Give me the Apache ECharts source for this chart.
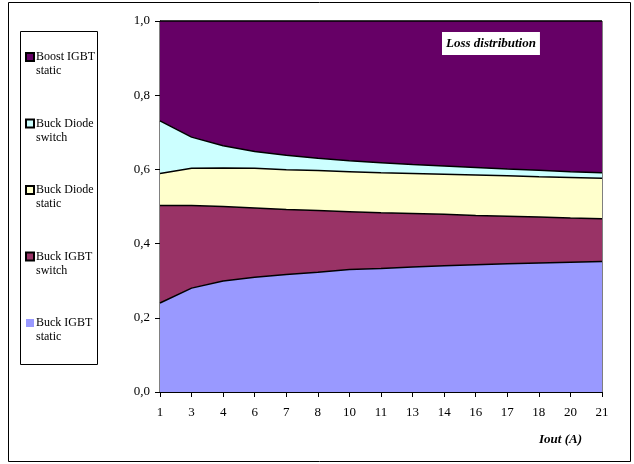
<!DOCTYPE html>
<html>
<head>
<meta charset="utf-8">
<script src="https://cdn.jsdelivr.net/npm/echarts@6/dist/echarts.min.js"></script>
<style>html,body{margin:0;padding:0;background:#fff}#c{width:634px;height:464px}</style>
</head>
<body>
<div id="c"></div>
<script>
var categories = ['1','3','4','6','7','8','10','11','13','14','16','17','18','20','21'];
var yTicks = ['0,0','0,2','0,4','0,6','0,8','1,0'];
var buckIgbtStatic   = [0.240,0.280,0.299,0.309,0.317,0.323,0.330,0.333,0.337,0.340,0.343,0.346,0.348,0.350,0.352];
var buckIgbtSwitch   = [0.263,0.223,0.201,0.187,0.175,0.166,0.156,0.150,0.144,0.139,0.133,0.128,0.124,0.119,0.115];
var buckDiodeStatic  = [0.086,0.100,0.104,0.107,0.107,0.108,0.108,0.108,0.108,0.108,0.109,0.109,0.108,0.109,0.109];
var buckDiodeSwitch  = [0.142,0.084,0.060,0.045,0.039,0.033,0.029,0.027,0.024,0.022,0.020,0.018,0.018,0.016,0.015];
var boostIgbtStatic  = [0.269,0.313,0.336,0.352,0.362,0.370,0.377,0.382,0.387,0.391,0.395,0.399,0.402,0.406,0.409];

var FONT = '"Liberation Serif", "Times New Roman", serif';
var seriesDefs = [
  {name:'Buck IGBT static', data:buckIgbtStatic, color:'#9999FF', l1:'Buck IGBT', l2:'static', bw:0},
  {name:'Buck IGBT switch', data:buckIgbtSwitch, color:'#993366', l1:'Buck IGBT', l2:'switch', bw:1},
  {name:'Buck Diode static', data:buckDiodeStatic, color:'#FFFFCC', l1:'Buck Diode', l2:'static', bw:1},
  {name:'Buck Diode switch', data:buckDiodeSwitch, color:'#CCFFFF', l1:'Buck Diode', l2:'switch', bw:1},
  {name:'Boost IGBT static', data:boostIgbtStatic, color:'#660066', l1:'Boost IGBT', l2:'static', bw:1}
];
var labelMap = {};
seriesDefs.forEach(function(s){ labelMap[s.name] = '\n' + s.l1 + '\n' + s.l2; });

var chart = echarts.init(document.getElementById('c'), null, {renderer:'canvas'});
chart.setOption({
  animation:false,
  backgroundColor:'#fff',
  title:{
    text:'Loss distribution', left:442, top:32,
    backgroundColor:'#fff', padding:[5,4,5,4],
    textStyle:{fontFamily:FONT, fontStyle:'italic', fontWeight:'bold', fontSize:13, color:'#000'}
  },
  legend:{
    orient:'vertical', left:20, top:31, padding:5,
    data:['Boost IGBT static','Buck Diode switch','Buck Diode static','Buck IGBT switch','Buck IGBT static'],
    icon:'rect', itemWidth:8, itemHeight:8, itemGap:24.5,
    formatter:function(n){ return labelMap[n]; },
    textStyle:{fontFamily:FONT, fontSize:12, color:'#000', lineHeight:14, padding:[0,0,0,-3]},
    selectedMode:false
  },
  grid:{left:160, right:32, top:21, bottom:72, show:true, borderColor:'#000', borderWidth:1, backgroundColor:'transparent'},
  xAxis:{
    type:'category', data:categories, boundaryGap:false,
    axisLine:{lineStyle:{color:'#000', width:1}},
    axisTick:{show:true, alignWithLabel:true, length:5, lineStyle:{color:'#000'}},
    axisLabel:{fontFamily:FONT, fontSize:13, color:'#000', margin:14},
    name:'Iout (A)', nameLocation:'end', nameGap:-63,
    nameTextStyle:{fontFamily:FONT, fontStyle:'italic', fontWeight:'bold', fontSize:13, color:'#000', verticalAlign:'top', padding:[41,0,0,0]}
  },
  yAxis:{
    type:'value', min:0, max:1, interval:0.2,
    axisLine:{show:true, lineStyle:{color:'#000', width:1}},
    axisTick:{show:true, length:5, lineStyle:{color:'#000'}},
    splitLine:{show:false},
    axisLabel:{fontFamily:FONT, fontSize:13, color:'#000', margin:10,
      formatter:function(v){ return yTicks[Math.round(v/0.2)]; }}
  },
  series:seriesDefs.map(function(s){
    return {
      name:s.name, type:'line', stack:'total', data:s.data, symbol:'none',
      itemStyle:{color:s.color, borderColor:'#000', borderWidth:s.bw},
      lineStyle:{color:'#000', width:1.5},
      areaStyle:{color:s.color, opacity:1}
    };
  }),
  graphic:[
    {type:'rect', shape:{x:8.5, y:2.5, width:622, height:459}, style:{fill:null, stroke:'#000', lineWidth:1}, silent:true},
    {type:'rect', shape:{x:20.5, y:31.5, width:77, height:333}, style:{fill:null, stroke:'#000', lineWidth:1}, silent:true}
  ]
});
</script>
</body>
</html>
